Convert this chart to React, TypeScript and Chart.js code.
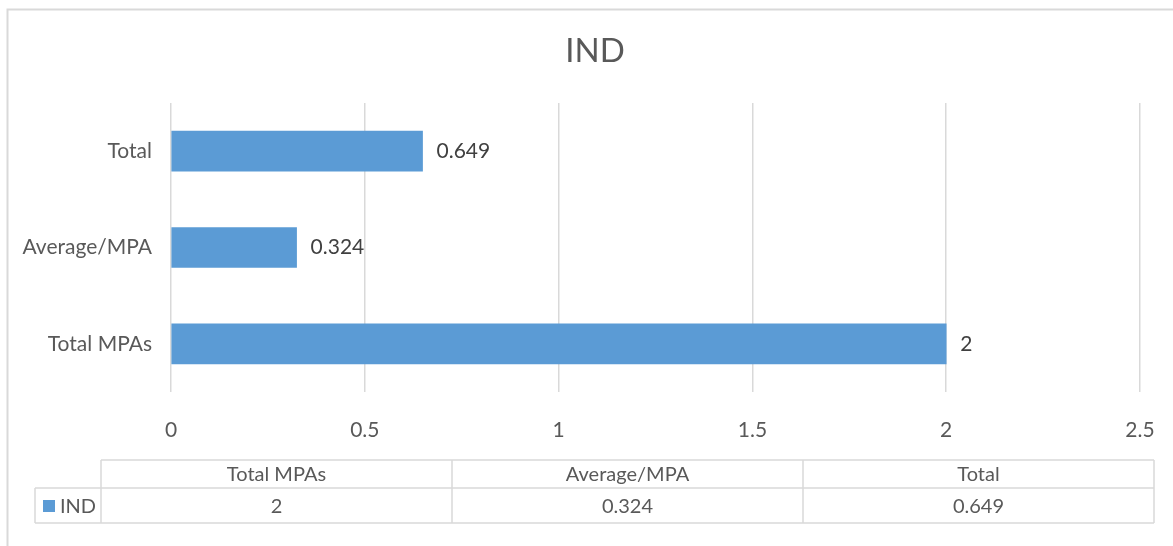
import React, { useEffect, useRef } from "react";
import { Chart, registerables } from "chart.js";

Chart.register(...registerables);

const chartTitle = "IND";
const seriesName = "IND";
const categories = ["Total MPAs", "Average/MPA", "Total"];
const values = [2, 0.324, 0.649];
const valueLabels = ["2", "0.324", "0.649"];
const xMin = 0;
const xMax = 2.5;
const xStep = 0.5;

const W = 1173;
const H = 546;
const FONT = "Lato";
const BAR = "#5B9BD5";
const GRID = "#D9D9D9";
const TEXT = "#595959";

const decorPlugin = {
  id: "decor",
  afterDatasetsDraw(chart: any) {
    const ctx = chart.ctx;
    const meta = chart.getDatasetMeta(0);
    ctx.save();
    ctx.font = `21px ${FONT}`;
    ctx.fillStyle = "#404040";
    ctx.textBaseline = "middle";
    ctx.textAlign = "left";
    meta.data.forEach((el: any, i: number) => {
      ctx.fillText(valueLabels[i], el.x + 14, el.y);
    });
    ctx.restore();
  },
  afterDraw(chart: any) {
    const ctx = chart.ctx;
    ctx.save();
    // outer border (clipped right & bottom)
    ctx.strokeStyle = GRID;
    ctx.lineWidth = 2;
    ctx.beginPath();
    ctx.moveTo(7.5, H + 5);
    ctx.lineTo(7.5, 9.5);
    ctx.lineTo(W + 5, 9.5);
    ctx.stroke();

    // title
    ctx.fillStyle = TEXT;
    ctx.font = `33px ${FONT}`;
    ctx.textAlign = "center";
    ctx.textBaseline = "middle";
    ctx.fillText(chartTitle, 595, 51);

    // data table
    const top = 460;
    const mid = 488;
    const bot = 523;
    const legL = 35;
    const tL = 101;
    const tR = 1154;
    const colW = (tR - tL) / categories.length;
    ctx.strokeStyle = GRID;
    ctx.lineWidth = 1.5;
    ctx.beginPath();
    ctx.moveTo(tL, top);
    ctx.lineTo(tR, top);
    ctx.moveTo(legL, mid);
    ctx.lineTo(tR, mid);
    ctx.moveTo(legL, bot);
    ctx.lineTo(tR, bot);
    ctx.moveTo(legL, mid);
    ctx.lineTo(legL, bot);
    for (let i = 0; i <= categories.length; i++) {
      const x = tL + colW * i;
      ctx.moveTo(x, top);
      ctx.lineTo(x, bot);
    }
    ctx.stroke();

    ctx.font = `20px ${FONT}`;
    ctx.fillStyle = TEXT;
    ctx.textAlign = "center";
    categories.forEach((c, i) => {
      const cx = tL + colW * (i + 0.5);
      ctx.fillText(c, cx, (top + mid) / 2 + 1);
      ctx.fillText(valueLabels[i], cx, (mid + bot) / 2 + 1);
    });
    // legend key
    ctx.fillStyle = BAR;
    ctx.fillRect(43, 500, 12, 12);
    ctx.fillStyle = TEXT;
    ctx.textAlign = "left";
    ctx.fillText(seriesName, 60, (mid + bot) / 2 + 1);
    ctx.restore();
  },
};

export default function App() {
  const ref = useRef<HTMLCanvasElement | null>(null);
  useEffect(() => {
    if (!ref.current) return;
    const chart = new Chart(ref.current, {
      type: "bar",
      data: {
        labels: categories,
        datasets: [
          {
            label: seriesName,
            data: values,
            backgroundColor: BAR,
            borderWidth: 0,
            barThickness: 40,
          },
        ],
      },
      options: {
        indexAxis: "y",
        animation: false,
        responsive: false,
        devicePixelRatio: 1,
        layout: { padding: { top: 103, left: 0, right: 33, bottom: 0 } },
        plugins: {
          legend: { display: false },
          title: { display: false },
          tooltip: { enabled: false },
        },
        scales: {
          x: {
            type: "linear",
            min: xMin,
            max: xMax,
            ticks: {
              stepSize: xStep,
              padding: 26,
              color: TEXT,
              font: { family: FONT, size: 21 },
              callback: (v: any) => String(Number(v)),
            },
            grid: { color: GRID, lineWidth: 1.5, drawTicks: false },
            border: { display: false },
            afterFit: (s: any) => {
              s.height = 154;
              s.paddingLeft = 0;
              s.paddingRight = 0;
            },
          },
          y: {
            type: "category",
            reverse: true,
            ticks: {
              padding: 19,
              color: TEXT,
              font: { family: FONT, size: 21 },
            },
            grid: { display: false, drawTicks: false },
            border: { display: false },
            afterFit: (s: any) => {
              s.width = 171;
              s.paddingTop = 0;
              s.paddingBottom = 0;
            },
          },
        },
      },
      plugins: [decorPlugin],
    });
    return () => chart.destroy();
  }, []);
  return (
    <div style={{ position: "absolute", left: 0, top: 0, width: W, height: H, background: "#fff" }}>
      <canvas ref={ref} width={W} height={H} style={{ display: "block" }} />
    </div>
  );
}
